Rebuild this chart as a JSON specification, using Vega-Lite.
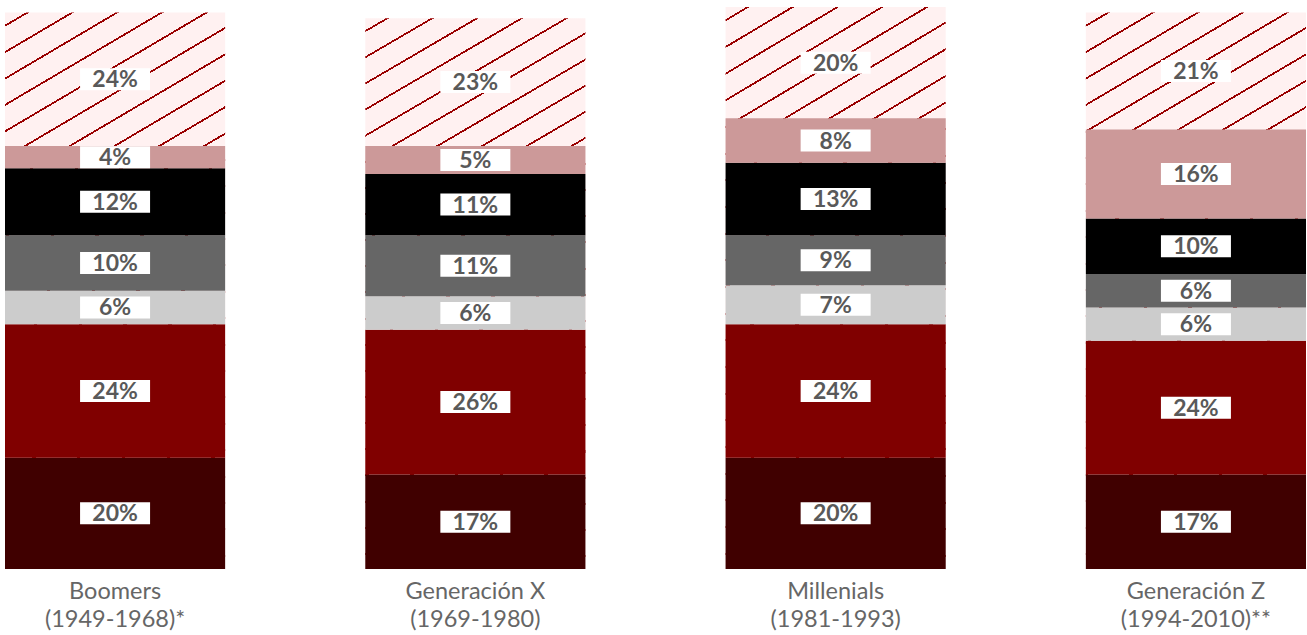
{
  "$schema": "https://vega.github.io/schema/vega-lite/v6.json",
  "width": 1301,
  "height": 562,
  "autosize": "none",
  "padding": {"left": 5, "top": 7, "right": 1, "bottom": 66},
  "background": "white",
  "config": {"view": {"stroke": null}},
  "data": {
    "values": [
      {"gen": "Boomers (1949-1968)*", "s": 1, "v": 20},
      {"gen": "Boomers (1949-1968)*", "s": 2, "v": 24},
      {"gen": "Boomers (1949-1968)*", "s": 3, "v": 6},
      {"gen": "Boomers (1949-1968)*", "s": 4, "v": 10},
      {"gen": "Boomers (1949-1968)*", "s": 5, "v": 12},
      {"gen": "Boomers (1949-1968)*", "s": 6, "v": 4},
      {"gen": "Boomers (1949-1968)*", "s": 7, "v": 24},
      {"gen": "Generación X (1969-1980)", "s": 1, "v": 17},
      {"gen": "Generación X (1969-1980)", "s": 2, "v": 26},
      {"gen": "Generación X (1969-1980)", "s": 3, "v": 6},
      {"gen": "Generación X (1969-1980)", "s": 4, "v": 11},
      {"gen": "Generación X (1969-1980)", "s": 5, "v": 11},
      {"gen": "Generación X (1969-1980)", "s": 6, "v": 5},
      {"gen": "Generación X (1969-1980)", "s": 7, "v": 23},
      {"gen": "Millenials (1981-1993)", "s": 1, "v": 20},
      {"gen": "Millenials (1981-1993)", "s": 2, "v": 24},
      {"gen": "Millenials (1981-1993)", "s": 3, "v": 7},
      {"gen": "Millenials (1981-1993)", "s": 4, "v": 9},
      {"gen": "Millenials (1981-1993)", "s": 5, "v": 13},
      {"gen": "Millenials (1981-1993)", "s": 6, "v": 8},
      {"gen": "Millenials (1981-1993)", "s": 7, "v": 20},
      {"gen": "Generación Z (1994-2010)**", "s": 1, "v": 17},
      {"gen": "Generación Z (1994-2010)**", "s": 2, "v": 24},
      {"gen": "Generación Z (1994-2010)**", "s": 3, "v": 6},
      {"gen": "Generación Z (1994-2010)**", "s": 4, "v": 6},
      {"gen": "Generación Z (1994-2010)**", "s": 5, "v": 10},
      {"gen": "Generación Z (1994-2010)**", "s": 6, "v": 16},
      {"gen": "Generación Z (1994-2010)**", "s": 7, "v": 21}
    ]
  },
  "encoding": {
    "x": {
      "field": "gen",
      "type": "nominal",
      "sort": null,
      "scale": {"paddingInner": 0.389, "paddingOuter": 0},
      "axis": {
        "title": null,
        "domain": false,
        "ticks": false,
        "labelAngle": 0,
        "labelFont": "Lato",
        "labelFontSize": 23.5,
        "labelColor": "#666666",
        "labelLineHeight": 28.5,
        "labelPadding": 10,
        "labelLimit": 400,
        "labelExpr": "[slice(datum.label, 0, indexof(datum.label, ' (')), slice(datum.label, indexof(datum.label, ' (') + 1)]"
      }
    }
  },
  "layer": [
    {
      "mark": {
        "type": "bar",
        "fill": {
          "gradient": "linear",
          "x1": 0, "y1": 0, "x2": 0.273, "y2": 1.17,
          "stops": [
            {"offset": 0, "color": "#fff1f1"},
            {"offset": 0.0177, "color": "#fff1f1"}, {"offset": 0.0177, "color": "#990000"}, {"offset": 0.0207, "color": "#990000"}, {"offset": 0.0207, "color": "#fff1f1"},
            {"offset": 0.0562, "color": "#fff1f1"}, {"offset": 0.0562, "color": "#990000"}, {"offset": 0.0592, "color": "#990000"}, {"offset": 0.0592, "color": "#fff1f1"},
            {"offset": 0.0947, "color": "#fff1f1"}, {"offset": 0.0947, "color": "#990000"}, {"offset": 0.0977, "color": "#990000"}, {"offset": 0.0977, "color": "#fff1f1"},
            {"offset": 0.1331, "color": "#fff1f1"}, {"offset": 0.1331, "color": "#990000"}, {"offset": 0.1361, "color": "#990000"}, {"offset": 0.1361, "color": "#fff1f1"},
            {"offset": 0.1716, "color": "#fff1f1"}, {"offset": 0.1716, "color": "#990000"}, {"offset": 0.1746, "color": "#990000"}, {"offset": 0.1746, "color": "#fff1f1"},
            {"offset": 0.2100, "color": "#fff1f1"}, {"offset": 0.2100, "color": "#990000"}, {"offset": 0.2130, "color": "#990000"}, {"offset": 0.2130, "color": "#fff1f1"},
            {"offset": 0.2485, "color": "#fff1f1"}, {"offset": 0.2485, "color": "#990000"}, {"offset": 0.2515, "color": "#990000"}, {"offset": 0.2515, "color": "#fff1f1"},
            {"offset": 0.2870, "color": "#fff1f1"}, {"offset": 0.2870, "color": "#990000"}, {"offset": 0.2900, "color": "#990000"}, {"offset": 0.2900, "color": "#fff1f1"},
            {"offset": 0.3254, "color": "#fff1f1"}, {"offset": 0.3254, "color": "#990000"}, {"offset": 0.3284, "color": "#990000"}, {"offset": 0.3284, "color": "#fff1f1"},
            {"offset": 0.3639, "color": "#fff1f1"}, {"offset": 0.3639, "color": "#990000"}, {"offset": 0.3669, "color": "#990000"}, {"offset": 0.3669, "color": "#fff1f1"},
            {"offset": 0.4023, "color": "#fff1f1"}, {"offset": 0.4023, "color": "#990000"}, {"offset": 0.4053, "color": "#990000"}, {"offset": 0.4053, "color": "#fff1f1"},
            {"offset": 0.4408, "color": "#fff1f1"}, {"offset": 0.4408, "color": "#990000"}, {"offset": 0.4438, "color": "#990000"}, {"offset": 0.4438, "color": "#fff1f1"},
            {"offset": 0.4793, "color": "#fff1f1"}, {"offset": 0.4793, "color": "#990000"}, {"offset": 0.4823, "color": "#990000"}, {"offset": 0.4823, "color": "#fff1f1"},
            {"offset": 0.5177, "color": "#fff1f1"}, {"offset": 0.5177, "color": "#990000"}, {"offset": 0.5207, "color": "#990000"}, {"offset": 0.5207, "color": "#fff1f1"},
            {"offset": 0.5562, "color": "#fff1f1"}, {"offset": 0.5562, "color": "#990000"}, {"offset": 0.5592, "color": "#990000"}, {"offset": 0.5592, "color": "#fff1f1"},
            {"offset": 0.5946, "color": "#fff1f1"}, {"offset": 0.5946, "color": "#990000"}, {"offset": 0.5976, "color": "#990000"}, {"offset": 0.5976, "color": "#fff1f1"},
            {"offset": 0.6331, "color": "#fff1f1"}, {"offset": 0.6331, "color": "#990000"}, {"offset": 0.6361, "color": "#990000"}, {"offset": 0.6361, "color": "#fff1f1"},
            {"offset": 0.6716, "color": "#fff1f1"}, {"offset": 0.6716, "color": "#990000"}, {"offset": 0.6746, "color": "#990000"}, {"offset": 0.6746, "color": "#fff1f1"},
            {"offset": 0.7100, "color": "#fff1f1"}, {"offset": 0.7100, "color": "#990000"}, {"offset": 0.7130, "color": "#990000"}, {"offset": 0.7130, "color": "#fff1f1"},
            {"offset": 0.7485, "color": "#fff1f1"}, {"offset": 0.7485, "color": "#990000"}, {"offset": 0.7515, "color": "#990000"}, {"offset": 0.7515, "color": "#fff1f1"},
            {"offset": 0.7870, "color": "#fff1f1"}, {"offset": 0.7870, "color": "#990000"}, {"offset": 0.7900, "color": "#990000"}, {"offset": 0.7900, "color": "#fff1f1"},
            {"offset": 0.8254, "color": "#fff1f1"}, {"offset": 0.8254, "color": "#990000"}, {"offset": 0.8284, "color": "#990000"}, {"offset": 0.8284, "color": "#fff1f1"},
            {"offset": 0.8639, "color": "#fff1f1"}, {"offset": 0.8639, "color": "#990000"}, {"offset": 0.8669, "color": "#990000"}, {"offset": 0.8669, "color": "#fff1f1"},
            {"offset": 0.9023, "color": "#fff1f1"}, {"offset": 0.9023, "color": "#990000"}, {"offset": 0.9053, "color": "#990000"}, {"offset": 0.9053, "color": "#fff1f1"},
            {"offset": 0.9408, "color": "#fff1f1"}, {"offset": 0.9408, "color": "#990000"}, {"offset": 0.9438, "color": "#990000"}, {"offset": 0.9438, "color": "#fff1f1"},
            {"offset": 0.9793, "color": "#fff1f1"}, {"offset": 0.9793, "color": "#990000"}, {"offset": 0.9823, "color": "#990000"}, {"offset": 0.9823, "color": "#fff1f1"},
            {"offset": 1, "color": "#fff1f1"}
          ]
        }
      },
      "encoding": {
        "y": {"aggregate": "sum", "field": "v", "type": "quantitative", "scale": {"domain": [0, 101], "nice": false, "zero": true}, "axis": null}
      }
    },
    {
      "transform": [{"filter": "datum.s < 7"}],
      "mark": {"type": "bar"},
      "encoding": {
        "y": {"field": "v", "type": "quantitative", "stack": "zero", "axis": null},
        "order": {"field": "s", "type": "quantitative", "sort": "ascending"},
        "color": {
          "field": "s",
          "type": "nominal",
          "legend": null,
          "scale": {"domain": [1, 2, 3, 4, 5, 6], "range": ["#400000", "#800000", "#cccccc", "#666666", "#000000", "#cc9999"]}
        }
      }
    },
    {
      "transform": [
        {"stack": "v", "groupby": ["gen"], "sort": [{"field": "s", "order": "ascending"}], "as": ["y0", "y1"]},
        {"calculate": "(datum.y0 + datum.y1) / 2", "as": "mid"},
        {"calculate": "datum.v + '%'", "as": "lab"}
      ],
      "encoding": {
        "y": {"field": "mid", "type": "quantitative", "axis": null}
      },
      "layer": [
        {
          "mark": {"type": "point", "filled": true, "opacity": 1, "color": "white", "shape": "M-1,-0.3143H1V0.3143H-1Z", "size": 4900}
        },
        {
          "mark": {"type": "text", "font": "Lato", "fontWeight": "bold", "fontSize": 23, "color": "#595959", "baseline": "middle", "dy": 1},
          "encoding": {"text": {"field": "lab", "type": "nominal"}}
        }
      ]
    }
  ]
}
